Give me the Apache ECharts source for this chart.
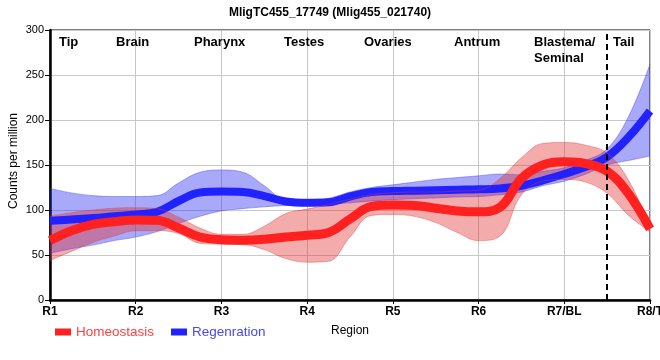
<!DOCTYPE html>
<html><head><meta charset="utf-8">
<script src="https://cdn.jsdelivr.net/npm/echarts@6/dist/echarts.min.js"></script>
<style>html,body{margin:0;padding:0;background:#fff}#c{width:660px;height:360px}</style>
</head><body><div id="c"></div>
<script>
var tickLabels = ['R1','R2','R3','R4','R5','R6','R7/BL','R8/T'];
var regionNames = ['Tip','Brain','Pharynx','Testes','Ovaries','Antrum','Blastema/\nSeminal','Tail'];
var yAxisTitle = 'Counts per million';
var xs = [0,0.25,0.5,0.75,1,1.25,1.5,1.75,2,2.25,2.5,2.75,3,3.25,3.5,3.75,4,4.25,4.5,4.75,5,5.25,5.5,5.75,6,6.25,6.5,6.75,7];
var homeoMean  = [66,77,84,87,89,88.5,80,70,67,66.5,67.5,70,72,75,90,104,105.5,105,102,99,98,103,135,150,153.5,151.5,143,118,79];
var homeoUpper = [93,97,100,102,102.5,101.5,92,80,73,73,82,96,101,106,112,117,119,120,120,121,122,135,158,174,175,172,163,133,81];
var homeoLower = [44,54,64,71,77,77,74,63,62,61.5,56,46,42,43,70,94,95,93,86,75,66,71,117,132,134,131,118.5,94,76];
var regenMean  = [88,89.5,91,93,95,98,110,119.5,120.5,120,115.5,109.5,108,108.5,115,120,121,121.5,122,122.5,123,124,127,133,140,148,159,181,210];
var regenUpper = [124,119,116,115,115,116,130,142,144.5,142,127,111,110,113,120,125,128,131,134,136,138,140,139,143,147,155,168,204,262];
var regenLower = [52,57,61,66,70,76,85,93,99,101.5,103.5,105,106,106.5,108,110,111.5,112.5,113.5,114.5,115,117,120,127,132,140,150,155,160];
var dividerX = 6.5;

var cats = xs.map(function(x){ return String(x); });
function isTick(idx){ return Math.abs(xs[idx] - Math.round(xs[idx])) < 1e-9; }
function diff(u,l){ return u.map(function(v,i){ return v - l[i]; }); }

var chart = echarts.init(document.getElementById('c'), null, {renderer:'canvas'});
var SM = 0.4;
var FONT = 'Arial, "Liberation Sans", sans-serif';
function bandSeries(name, lower, upper, stroke, fill){
  return [
    {name:name+'_lo', type:'line', stack:name, data:lower.slice(), smooth:SM, symbol:'none', silent:true,
     lineStyle:{width:1, color:stroke}, z:2},
    {name:name+'_hi', type:'line', stack:name, data:diff(upper,lower), smooth:SM, symbol:'none', silent:true,
     lineStyle:{width:1, color:stroke}, areaStyle:{color:fill, opacity:1}, z:2}
  ];
}
var series = [].concat(
  bandSeries('regBand', regenLower, regenUpper, 'rgba(60,60,240,0.4)', 'rgba(40,40,240,0.4)'),
  [{name:'Regenration', type:'line', data:regenMean.slice(), smooth:SM, symbol:'none', z:2,
    lineStyle:{width:8, color:'#2222ff'}, itemStyle:{color:'#2222ff'}}],
  bandSeries('homBand', homeoLower, homeoUpper, 'rgba(225,60,60,0.4)', 'rgba(225,45,45,0.4)'),
  [{name:'Homeostasis', type:'line', data:homeoMean.slice(), smooth:SM, symbol:'none', z:2,
    lineStyle:{width:9, color:'#ff2020'}, itemStyle:{color:'#ff2020'},
    markLine:{silent:true, symbol:'none', label:{show:false},
      lineStyle:{color:'#000', width:2, type:[6,4]},
      data:[{xAxis:String(dividerX)}]}}]
);

var regionLeft = [59,116,194,284,364,454,534,613];
var graphics = regionNames.map(function(n,i){
  return {type:'text', left:regionLeft[i], top:34, z:100,
    style:{text:n, font:'bold 13px ' + FONT, fill:'#000', lineHeight:16}};
});
graphics.push({type:'text', x:14, y:161, rotation:Math.PI/2, z:100,
  style:{text:yAxisTitle, font:'12px ' + FONT, fill:'#000', align:'center', verticalAlign:'middle'}});

chart.setOption({
  animation:false,
  backgroundColor:'#fff',
  title:{text:'MligTC455_17749 (Mlig455_021740)', left:'center', top:2,
    textStyle:{fontSize:12, fontWeight:'bold', color:'#000', fontFamily:FONT}},
  grid:{left:50, right:10, top:30, bottom:60, show:true, borderColor:'#000', borderWidth:1,
    backgroundColor:'transparent', containLabel:false, outerBoundsMode:'none'},
  legend:{left:50, top:320, itemWidth:16, itemHeight:7, itemGap:17, itemTextGap:4, icon:'rect',
    data:[{name:'Homeostasis', textStyle:{color:'#ff4040'}}, {name:'Regenration', textStyle:{color:'#4545ff'}}],
    textStyle:{fontSize:13.5, fontFamily:FONT}},
  xAxis:{type:'category', data:cats, boundaryGap:false,
    name:'Region', nameLocation:'middle', nameGap:25,
    nameTextStyle:{fontSize:12, color:'#000', fontFamily:FONT},
    axisLine:{show:true, lineStyle:{color:'#000', width:2.5}},
    axisTick:{show:true, length:4, interval:function(i){ return isTick(i); }, lineStyle:{color:'#000'}},
    splitLine:{show:true, interval:function(i){ return isTick(i); }, lineStyle:{color:'#c8c8c8', width:1}},
    axisLabel:{interval:function(i){ return isTick(i); },
      formatter:function(v){ return tickLabels[Math.round(parseFloat(v))]; }, fontSize:12, fontWeight:'bold', color:'#000', margin:6,
      fontFamily:FONT}},
  yAxis:{type:'value', min:0, max:300, interval:50,
    axisLine:{show:true, lineStyle:{color:'#000', width:2.5}},
    axisTick:{show:true, length:5, lineStyle:{color:'#000'}},
    splitLine:{show:true, lineStyle:{color:'#c8c8c8', width:1}},
    axisLabel:{fontSize:11, color:'#000', margin:6, fontFamily:FONT}},
  graphic:graphics,
  series:series
});
</script></body></html>
